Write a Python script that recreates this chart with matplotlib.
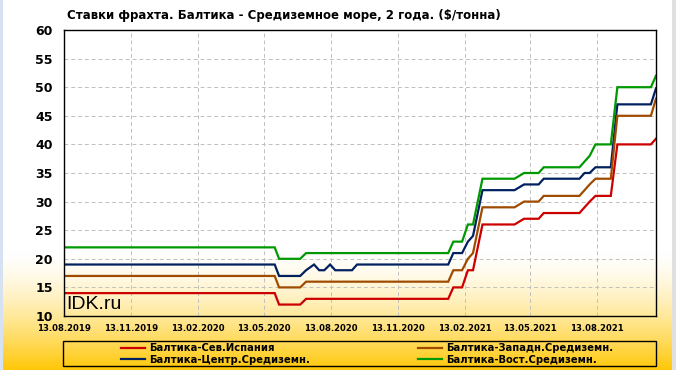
import matplotlib
matplotlib.use('Agg')
import matplotlib.pyplot as plt
import matplotlib.dates as mdates
import numpy as np
import pandas as pd
from matplotlib.patches import Rectangle

# точки изменения ставок (по графику)
dates = pd.to_datetime([
    '2019-08-13', '2020-05-28', '2020-06-03', '2020-07-02', '2020-07-10',
    '2020-07-21', '2020-07-28', '2020-08-04', '2020-08-12', '2020-08-19',
    '2020-09-11', '2020-09-18', '2021-01-21', '2021-01-28', '2021-02-09',
    '2021-02-17', '2021-02-24', '2021-03-09', '2021-04-22', '2021-05-05',
    '2021-05-25', '2021-06-01', '2021-07-20', '2021-07-27', '2021-08-03',
    '2021-08-11', '2021-09-01', '2021-09-10', '2021-10-26', '2021-11-02',
])
spain = [14, 14, 12, 12, 13, 13, 13, 13, 13, 13, 13, 13, 13, 15, 15,
         18, 18, 26, 26, 27, 27, 28, 28, 29, 30, 31, 31, 40, 40, 41]
west = [17, 17, 15, 15, 16, 16, 16, 16, 16, 16, 16, 16, 16, 18, 18,
        20, 21, 29, 29, 30, 30, 31, 31, 32, 33, 34, 34, 45, 45, 48]
central = [19, 19, 17, 17, 18, 19, 18, 18, 19, 18, 18, 19, 19, 21, 21,
           23, 24, 32, 32, 33, 33, 34, 34, 35, 35, 36, 36, 47, 47, 49.8]
east = [22, 22, 20, 20, 21, 21, 21, 21, 21, 21, 21, 21, 21, 23, 23,
        26, 26, 34, 34, 35, 35, 36, 36, 37, 38, 40, 40, 50, 50, 52]

names = ['Балтика-Сев.Испания', 'Балтика-Центр.Средиземн.',
         'Балтика-Западн.Средиземн.', 'Балтика-Вост.Средиземн.']
series = [spain, central, west, east]
colors = ['#CC0000', '#002060', '#A04C00', '#009900']

W, H = 676, 370
fig = plt.figure(figsize=(W / 100, H / 100), dpi=100)

# фон с градиентом
bg = fig.add_axes([0, 0, 1, 1], zorder=-10)
yy = np.arange(H)
t = np.clip((yy - 250) / 120.0, 0, 1) ** 1.5
top = np.array([1.0, 1.0, 1.0])
gold = np.array([1.0, 0.78, 0.02])
grad = top[None, :] * (1 - t[:, None]) + gold[None, :] * t[:, None]
img = np.repeat(grad[:, None, :], W, axis=1)
img[:, :3] = [0.84, 0.89, 0.95]
img[:, W - 4:] = [0.88, 0.88, 0.88]
bg.imshow(img, aspect='auto', extent=[0, W, H, 0])
bg.set_axis_off()

ax = fig.add_axes([64 / W, 1 - 316 / H, (656 - 64) / W, (316 - 30) / H])
ax.set_facecolor('none')

lines = []
for vals, c, n in zip(series, colors, names):
    ln, = ax.plot(dates, vals, color=c, lw=1.6, label=n, solid_joinstyle='miter')
    lines.append(ln)

ax.set_xlim(pd.Timestamp('2019-08-13'), pd.Timestamp('2021-11-02'))
ax.set_ylim(10, 60)
ax.set_yticks(np.arange(10, 61, 5))
ax.xaxis.set_major_locator(mdates.MonthLocator(bymonth=[2, 5, 8, 11], bymonthday=13))
ax.xaxis.set_major_formatter(mdates.DateFormatter('%d.%m.%Y'))
ax.grid(True, color='#C0C0C0', linestyle=(0, (4, 3)), lw=0.7)
ax.tick_params(axis='y', length=0, pad=8, labelsize=9)
ax.tick_params(axis='x', length=0, pad=5.8, labelsize=6.1)
for lab in ax.get_xticklabels() + ax.get_yticklabels():
    lab.set_fontweight('bold')
for s in ax.spines.values():
    s.set_color('black')
    s.set_linewidth(1)

ax.text(0.004, 0.01, 'IDK.ru', transform=ax.transAxes, fontsize=14,
        family='Liberation Sans', va='bottom', ha='left')

fig.text(67 / W, 1 - 16 / H, 'Ставки фрахта. Балтика - Средиземное море, 2 года. ($/тонна)',
         fontsize=8.5, fontweight='bold', va='center', ha='left')

# рамка легенды
fig.patches.append(Rectangle((63 / W, 1 - 366 / H), (656 - 63) / W, 25 / H,
                             transform=fig.transFigure, fill=False,
                             edgecolor='black', lw=1))
leg = fig.legend(handles=lines, loc='center left', ncol=2,
                 bbox_to_anchor=(116 / W, 1 - 354 / H), frameon=False,
                 fontsize=7.2, handlelength=2.4, handletextpad=0.4,
                 columnspacing=10.8, labelspacing=0.15, borderpad=0)
for txt in leg.get_texts():
    txt.set_fontweight('bold')

fig.savefig('out.png', dpi=100)
